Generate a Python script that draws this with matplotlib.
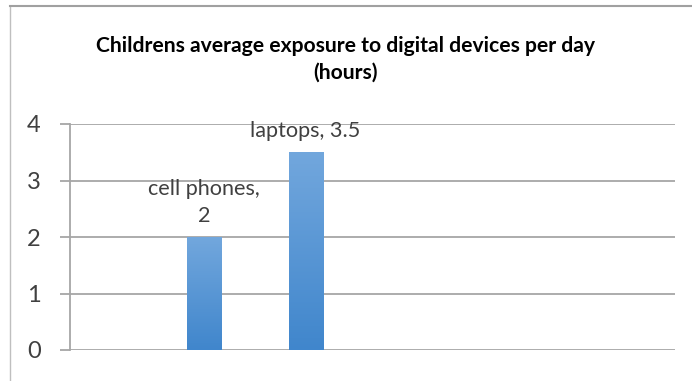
import numpy as np
import matplotlib.pyplot as plt
from matplotlib.lines import Line2D

categories = ['cell phones', 'laptops']
hours = [2, 3.5]
yticks = [0, 1, 2, 3, 4]
title = 'Childrens average exposure to digital devices per day\n(hours)'

plt.rcParams['font.family'] = ['Lato', 'DejaVu Sans']

W, H = 692, 381
fig = plt.figure(figsize=(W / 100, H / 100), dpi=100)
ax = fig.add_axes([70 / W, (H - 350) / H, 605 / W, (350 - 124) / H])

x = np.arange(len(categories))
bars = ax.bar(x, hours, width=0.335, color='#5b9bd5', zorder=2)

# vertical gradient inside each bar, light at top, darker at bottom
top = np.array([114, 167, 221]) / 255
bot = np.array([64, 134, 204]) / 255
t = np.linspace(0, 1, 256)[:, None]
grad = (top * (1 - t) + bot * t)[:, None, :]
for b in bars:
    im = ax.imshow(grad, extent=[b.get_x(), b.get_x() + b.get_width(), 0, b.get_height()],
                   aspect='auto', zorder=3)
    im.set_clip_path(b)

for xi, (c, v) in zip(x, zip(categories, hours)):
    lbl = f'{c},\n{v:g}' if len(c) > 8 else f'{c}, {v:g}'
    ax.annotate(lbl, (xi, v), xytext=(0, 8), textcoords='offset points',
                ha='center', va='bottom', fontsize=15.6, color='#404040',
                linespacing=1.4, zorder=4)

ax.set_xlim(-1.32, 4.64)
ax.set_ylim(0, 4)
ax.set_yticks(yticks)
ax.set_xticks([])
ax.yaxis.grid(True, color='#a6a6a6', linewidth=1.3, zorder=0)
ax.set_axisbelow(True)
ax.tick_params(axis='y', length=7, width=1.3, color='#a6a6a6',
               labelsize=17, labelcolor='#404040', pad=14)
for s in ['top', 'right', 'bottom']:
    ax.spines[s].set_visible(False)
ax.spines['left'].set_color('#a6a6a6')
ax.spines['left'].set_linewidth(1.3)

fig.text(346 / W, 1 - 59 / H, title, ha='center', va='center', fontsize=15.2,
         fontweight='bold', color='black', linespacing=1.4)

# chart frame
fig.add_artist(Line2D([10 / W, 10 / W], [0, 1 - 6 / H], color='#bfbfbf', lw=1))
fig.add_artist(Line2D([10 / W, 1], [1 - 6 / H, 1 - 6 / H], color='#a0a0a0', lw=1.5))

fig.savefig('out.png', dpi=100)
